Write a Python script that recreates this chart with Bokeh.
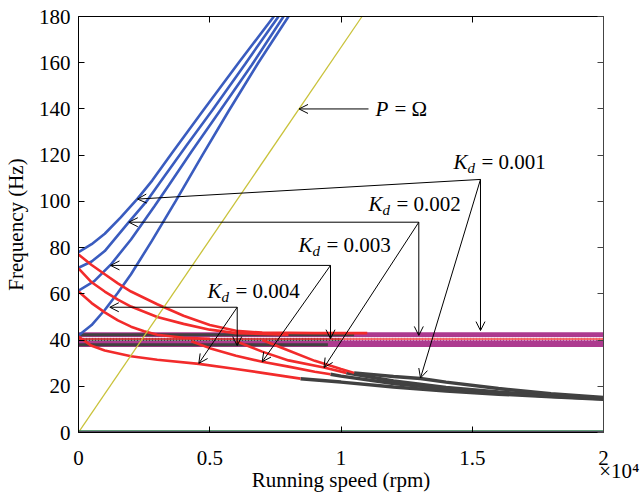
from bokeh.plotting import figure
from bokeh.models import Range1d, LinearAxis, FixedTicker, Arrow, OpenHead, Label
from bokeh.embed import file_html
from bokeh.resources import INLINE

# ---------------- data (rpm, Hz) ----------------
# forward-whirl (blue) branches, Kd = 0.001 .. 0.004
rpm_b1 = [0, 500, 1000, 1600, 2234, 2806, 3568, 4762, 6100, 7441]
hz_b1 = [78, 81.5, 86, 93, 101, 109, 121, 139.5, 160, 180]
rpm_b2 = [0, 500, 1000, 1917, 2590, 3124, 4100, 5105, 6350, 7619]
hz_b2 = [71.3, 74, 78.5, 91, 100, 108.5, 124, 139.5, 159.5, 180]
rpm_b3 = [0, 600, 1219, 2000, 2900, 3441, 4300, 5410, 6600, 7810]
hz_b3 = [61.4, 65.5, 72.5, 83.5, 98, 107, 121.5, 139.5, 159, 180]
rpm_b4 = [0, 500, 1000, 1500, 2000, 2800, 3695, 4720, 5714, 6850, 8000]
hz_b4 = [42, 46.5, 53, 60.5, 68.5, 83, 100, 120, 139, 160, 180]

# backward-whirl (red) branches that run into the 40 Hz band
rpm_u1 = [0, 500, 1000, 1500, 2000, 3000, 4000, 5000, 6000, 7000, 9000, 11000]
hz_u1 = [77, 72.5, 68.5, 64.5, 61, 55.5, 50.5, 46.5, 44, 43.2, 43, 43]
rpm_u2 = [0, 500, 1000, 1500, 2000, 3000, 4000, 5000, 6000, 8000]
hz_u2 = [71, 65, 61, 57.5, 54.5, 50, 47, 44.5, 43, 42.3]
rpm_u3 = [0, 500, 1000, 1500, 2000, 2500, 3000, 4000, 5000]
hz_u3 = [61, 56, 52, 48.5, 45.8, 43.8, 42.3, 41, 40.5]

# branches below the band: red part, then dark grey part
rpm_l4_red = [0, 500, 1000, 2000, 3000, 4583, 6000, 7000, 8457]
hz_l4_red = [41.5, 37.5, 35.5, 33, 31.5, 29.7, 27.5, 25.8, 23.3]
rpm_l4_gry = [8457, 10000, 12000, 14000, 16000, 18000, 20000]
hz_l4_gry = [23.3, 21.8, 19.7, 18, 16.6, 15.5, 14.4]
rpm_l3_red = [4300, 5000, 6000, 6998, 8000, 9000, 9600]
hz_l3_red = [39.5, 36.5, 33.2, 30.6, 28.5, 26.3, 25.2]
rpm_l3_gry = [9600, 10000, 12000, 14000, 16000, 18000, 20000]
hz_l3_gry = [25.2, 24.4, 21.2, 18.9, 17.1, 15.7, 14.6]
rpm_l2_red = [6000, 7000, 8000, 9352, 10200]
hz_l2_red = [39.5, 35, 31.2, 28.1, 25.8]
rpm_l2_gry = [10200, 12000, 14000, 16000, 18000, 20000]
hz_l2_gry = [25.8, 22.3, 19.5, 17.5, 16, 14.8]
rpm_l1_red = [7000, 8000, 9000, 10000, 10500]
hz_l1_red = [40, 35.5, 31, 27.5, 25.8]
rpm_l1_gry = [10500, 12000, 13029, 14000, 16000, 18000, 20000]
hz_l1_gry = [25.8, 24.2, 23.4, 21.8, 19, 16.8, 15.2]

# horizontal band (damper modes)
band_magenta_hz = [42.3, 38.5]
band_grey_hz = [42.3, 40.2, 38.0]
band_grey_end = [10500, 10000, 9500]
band_red_hz = 40.5
band_white_hz = [41.0, 39.9]
rpm_span = [0, 20000]

# P = Omega line
rpm_p = [0, 10800]
hz_p = [0, 180]

# zero-frequency lines
hz_zero_green = 0.5
hz_zero_purple = 0.0

# axes
x_ticks = [0, 5000, 10000, 15000, 20000]
x_tick_labels = ["0", "0.5", "1", "1.5", "2"]
y_ticks = [0, 20, 40, 60, 80, 100, 120, 140, 160, 180]
x_multiplier = "\u00a0\u00a0\u00a0\u00a0\u00a0\u00a0\u00d710\u2074"

# annotation anchors (apex, blue tip, band tip, lower-branch tip)
kd_names = ["0.001", "0.002", "0.003", "0.004"]
kd_apex = [(15314, 109.5), (12964, 91), (9600, 72.3), (6046, 54.2)]
kd_blue_tip = [(2248, 101), (1916, 91), (1219, 72.3), (1192, 54.2)]
kd_band_tip = [(15314, 44.1), (12964, 42.0), (9600, 40.6), (6046, 37.6)]
kd_low_tip = [(13029, 23.6), (9352, 28.1), (6998, 30.6), (4583, 29.9)]
kd_text_pos = [(14286, 117), (11048, 99), (8381, 81), (4914, 61.4)]
p_arrow = [(11048, 140), (8400, 140)]
p_text_pos = (11314, 140)

# ---------------- styling ----------------
BLUE = "#3a5cbf"
RED = "#f22b2b"
GREY = "#414141"
MAG = "#ad3a8f"
YEL = "#c9c23a"
FONT = "Liberation Serif"
FS = "21px"

p = figure(width=640, height=495, output_backend="svg", toolbar_location=None,
           x_range=Range1d(0, 20000), y_range=Range1d(0, 180),
           min_border_left=78, min_border_right=37, min_border_top=16,
           min_border_bottom=63, background_fill_color="white",
           border_fill_color="white", outline_line_color=None)
p.grid.visible = False

# band
for h in band_magenta_hz:
    p.line(rpm_span, [h, h], line_color=MAG, line_width=5 if h > 40 else 7)
for h, e in zip(band_grey_hz, band_grey_end):
    p.line([0, e], [h, h], line_color=GREY, line_width=3)
p.line(rpm_span, [band_red_hz, band_red_hz], line_color=RED, line_width=1.5)
for h in band_white_hz:
    p.line(rpm_span, [h, h], line_color="white", line_width=1, line_dash="1 2")

# curves
for xs, ys in [(rpm_b1, hz_b1), (rpm_b2, hz_b2), (rpm_b3, hz_b3), (rpm_b4, hz_b4)]:
    p.line(xs, ys, line_color=BLUE, line_width=2.6)
for xs, ys in [(rpm_l4_gry, hz_l4_gry), (rpm_l3_gry, hz_l3_gry),
               (rpm_l2_gry, hz_l2_gry), (rpm_l1_gry, hz_l1_gry)]:
    p.line(xs, ys, line_color=GREY, line_width=3.5)
for xs, ys in [(rpm_u1, hz_u1), (rpm_u2, hz_u2), (rpm_u3, hz_u3),
               (rpm_l4_red, hz_l4_red), (rpm_l3_red, hz_l3_red),
               (rpm_l2_red, hz_l2_red), (rpm_l1_red, hz_l1_red)]:
    p.line(xs, ys, line_color=RED, line_width=2.6)

p.line(rpm_p, hz_p, line_color=YEL, line_width=1.3)
p.line(rpm_span, [hz_zero_green] * 2, line_color="#2c7a4b", line_width=2)
p.line(rpm_span, [hz_zero_purple] * 2, line_color="#7a1a78", line_width=2)

# annotations
def arrow(a, b):
    p.add_layout(Arrow(end=OpenHead(size=9, line_width=1, line_color="black"),
                       x_start=a[0], y_start=a[1], x_end=b[0], y_end=b[1],
                       line_width=1, line_color="black"))

for apex, bt, nt, lt in zip(kd_apex, kd_blue_tip, kd_band_tip, kd_low_tip):
    arrow(apex, bt)
    arrow(apex, nt)
    arrow(apex, lt)
arrow(p_arrow[0], p_arrow[1])

def lab(x, y, text, size, style="normal", dx=0, dy=0):
    p.add_layout(Label(x=x, y=y, text=text, x_offset=dx, y_offset=dy,
                       text_font=FONT, text_font_size=size, text_font_style=style,
                       text_baseline="middle", text_align="left", text_color="black"))

for (tx, ty), name in zip(kd_text_pos, kd_names):
    lab(tx, ty, "K", FS, "italic")
    lab(tx, ty, "d", "15px", "italic", dx=14, dy=-6)
    lab(tx, ty, "= " + name, FS, dx=28)
lab(p_text_pos[0], p_text_pos[1], "P", FS, "italic")
lab(p_text_pos[0], p_text_pos[1], "= \u03a9", FS, dx=19)

# axes
def style_axis(ax):
    ax.major_tick_in = 6
    ax.major_tick_out = 0
    ax.minor_tick_in = 0
    ax.minor_tick_out = 0
    ax.axis_line_color = "black"
    ax.major_tick_line_color = "black"
    ax.major_label_text_font = FONT
    ax.major_label_text_font_size = FS
    ax.major_label_text_color = "black"
    ax.axis_label_text_font = FONT
    ax.axis_label_text_font_size = FS
    ax.axis_label_text_font_style = "normal"
    ax.axis_label_text_color = "black"

style_axis(p.xaxis[0])
style_axis(p.yaxis[0])
p.xaxis[0].ticker = FixedTicker(ticks=x_ticks)
p.xaxis[0].major_label_overrides = {t: l for t, l in zip(x_ticks, x_tick_labels)}
p.xaxis[0].major_label_standoff = 18
p.yaxis[0].ticker = FixedTicker(ticks=y_ticks)
p.yaxis[0].major_label_standoff = 8
p.yaxis[0].axis_label = "Frequency (Hz)"
p.yaxis[0].axis_label_standoff = 8

# second bottom axis: carries the x10^4 multiplier and the axis title
mult = LinearAxis(ticker=FixedTicker(ticks=[x_ticks[-1]]))
style_axis(mult)
mult.axis_line_color = None
mult.major_tick_line_color = None
mult.major_tick_in = 0
mult.major_label_overrides = {x_ticks[-1]: x_multiplier}
mult.major_label_standoff = -9
mult.axis_label = "Running speed (rpm)"
mult.axis_label_standoff = -18
p.add_layout(mult, "below")

top = LinearAxis(ticker=FixedTicker(ticks=x_ticks), major_label_text_alpha=0,
                 major_tick_in=6, major_tick_out=0, minor_tick_in=0, minor_tick_out=0,
                 axis_line_color="black", major_label_text_font_size="1px",
                 major_label_standoff=0)
right = LinearAxis(ticker=FixedTicker(ticks=y_ticks), major_label_text_alpha=0,
                   major_tick_in=6, major_tick_out=0, minor_tick_in=0, minor_tick_out=0,
                   axis_line_color="#444444", major_tick_line_color="#444444",
                   major_label_text_font_size="1px", major_label_standoff=0)
p.add_layout(top, "above")
p.add_layout(right, "right")

open("out.html", "w").write(file_html(p, INLINE))
